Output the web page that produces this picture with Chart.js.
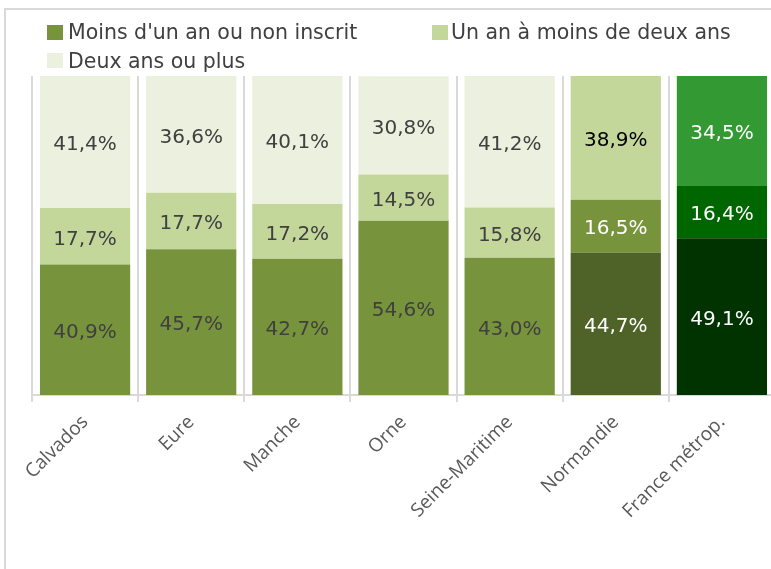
<!DOCTYPE html>
<html>
<head>
<meta charset="utf-8">
<script src="https://cdn.jsdelivr.net/npm/chart.js@4"></script>
<style>
  html, body { margin:0; padding:0; background:#fff; overflow:hidden; width:771px; height:569px; }
  #frame { position:absolute; left:4px; top:8px; width:800px; height:600px; border-left:2px solid #d9d9d9; border-top:2px solid #d9d9d9; }
  #wrap { position:absolute; left:0; top:0; width:790px; height:569px; }
  .lg { position:absolute; font-family:"DejaVu Sans", sans-serif; font-size:20.5px; color:#404040; white-space:nowrap; line-height:20.5px; }
  .bx { position:absolute; width:16px; height:15px; }
</style>
</head>
<body>
<div id="frame"></div>
<div id="wrap"><canvas id="c" width="790" height="569"></canvas></div>
<div id="legend"></div>
<script>
const categories = ["Calvados", "Eure", "Manche", "Orne", "Seine-Maritime", "Normandie", "France métrop."];
const seriesNames = ["Moins d'un an ou non inscrit", "Un an à moins de deux ans", "Deux ans ou plus"];
const moinsUnAn = [40.9, 45.7, 42.7, 54.6, 43.0, 44.7, 49.1];
const unADeuxAns = [17.7, 17.7, 17.2, 14.5, 15.8, 16.5, 16.4];
const deuxAnsPlus = [41.4, 36.6, 40.1, 30.8, 41.2, 38.9, 34.5];

const colMoins = ['#77933c','#77933c','#77933c','#77933c','#77933c','#4f6228','#003300'];
const colUnDeux = ['#c4d79b','#c4d79b','#c4d79b','#c4d79b','#c4d79b','#77933c','#006600'];
const colDeux = ['#ebf1de','#ebf1de','#ebf1de','#ebf1de','#ebf1de','#c4d79b','#339933'];
const lblMoins = ['#404040','#404040','#404040','#404040','#404040','#ffffff','#ffffff'];
const lblUnDeux = ['#404040','#404040','#404040','#404040','#404040','#ffffff','#ffffff'];
const lblDeux = ['#404040','#404040','#404040','#404040','#404040','#000000','#ffffff'];
const labelColors = [lblMoins, lblUnDeux, lblDeux];

// HTML legend
const legendItems = [
  {name: seriesNames[0], color: '#77933c', bx: 47, by: 25, tx: 68, ty: 21.5},
  {name: seriesNames[1], color: '#c4d79b', bx: 432, by: 25, tx: 451, ty: 21.5},
  {name: seriesNames[2], color: '#ebf1de', bx: 47, by: 53, tx: 68, ty: 50.5}
];
const lg = document.getElementById('legend');
legendItems.forEach(it => {
  const b = document.createElement('div'); b.className = 'bx';
  b.style.left = it.bx + 'px'; b.style.top = it.by + 'px'; b.style.background = it.color;
  lg.appendChild(b);
  const t = document.createElement('div'); t.className = 'lg';
  t.style.left = it.tx + 'px'; t.style.top = it.ty + 'px'; t.textContent = it.name;
  lg.appendChild(t);
});

const valueLabels = {
  id: 'valueLabels',
  afterDatasetsDraw(chart) {
    const ctx = chart.ctx;
    ctx.save();
    ctx.font = '20px "DejaVu Sans", sans-serif';
    ctx.textAlign = 'center';
    ctx.textBaseline = 'middle';
    chart.data.datasets.forEach((ds, di) => {
      const meta = chart.getDatasetMeta(di);
      meta.data.forEach((el, i) => {
        const p = el.getProps(['x', 'y', 'base'], true);
        const v = ds.data[i];
        ctx.fillStyle = labelColors[di][i];
        ctx.fillText(v.toFixed(1).replace('.', ',') + '%', p.x, (p.y + p.base) / 2 + 3);
      });
    });
    ctx.restore();
  }
};

new Chart(document.getElementById('c'), {
  type: 'bar',
  data: {
    labels: categories,
    datasets: [
      {label: seriesNames[0], data: moinsUnAn, backgroundColor: colMoins},
      {label: seriesNames[1], data: unADeuxAns, backgroundColor: colUnDeux},
      {label: seriesNames[2], data: deuxAnsPlus, backgroundColor: colDeux}
    ]
  },
  options: {
    responsive: false,
    animation: false,
    devicePixelRatio: 1,
    layout: { padding: { left: 32, right: 15, top: 76, bottom: 0 } },
    datasets: { bar: { barPercentage: 0.85, categoryPercentage: 1.0 } },
    plugins: { legend: { display: false }, tooltip: { enabled: false }, title: { display: false } },
    scales: {
      x: {
        stacked: true,
        offset: true,
        grid: { display: true, offset: true, color: '#d9d9d9', lineWidth: 2, tickLength: 7, drawOnChartArea: true },
        border: { display: true, color: '#d9d9d9', width: 2 },
        ticks: { minRotation: 45, maxRotation: 45, padding: 9, color: '#595959', font: { family: '"Open Sans", sans-serif', size: 19 } },
        afterFit(scale) { scale.height = 174; }
      },
      y: {
        stacked: true,
        display: false,
        min: 0,
        max: 100
      }
    }
  },
  plugins: [valueLabels]
});
</script>
</body>
</html>
